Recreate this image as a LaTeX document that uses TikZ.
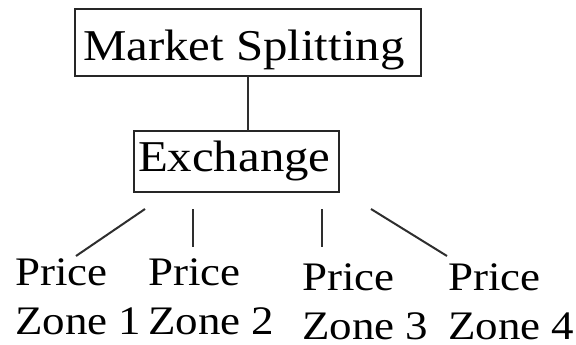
\documentclass[tikz,border=0pt]{standalone}
\usepackage{fontspec}
\setmainfont{Liberation Serif}[FakeStretch=1.11]
\begin{document}
\begin{tikzpicture}[x=1pt,y=-1pt,
  box/.style={draw=black!85, line width=2pt, inner sep=0pt, outer sep=0pt,
              anchor=north west, font=\fontsize{44pt}{52pt}\selectfont},
  conn/.style={draw=black!82, line width=2pt},
  zone/.style={inner sep=0pt, anchor=base west, align=left,
               font=\fontsize{40.5pt}{49pt}\selectfont}]
\useasboundingbox (0,0) rectangle (576,345);

% top of the hierarchy
\node[box, text height=52pt, text depth=15pt] (ms) at (75,9)
  {\makebox[346pt][l]{\hspace{8pt}Market Splitting}};
\node[box, text height=40pt, text depth=21pt] (ex) at (134,131)
  {\makebox[205pt][l]{\hspace{4pt}Exchange}};
\draw[conn] (ms.south) -- (ms.south |- ex.north);

% price zones (anchored on the baseline of their last line)
\node[zone] (z1) at (15,334) {Price\\Zone 1};
\node[zone] (z2) at (148,334) {Price\\Zone 2};
\node[zone] (z3) at (302,339) {Price\\Zone 3};
\node[zone] (z4) at (448,339) {Price\\Zone 4};

% free-standing branch lines below the exchange
\coordinate (e1) at (145,209); \coordinate (t1) at (76,256);
\coordinate (e2) at (193,209); \coordinate (t2) at (193,247);
\coordinate (e3) at (322,209); \coordinate (t3) at (322,247);
\coordinate (e4) at (371,209); \coordinate (t4) at (447,256);
\draw[conn] (e1) -- (t1);
\draw[conn] (e2) -- (t2);
\draw[conn] (e3) -- (t3);
\draw[conn] (e4) -- (t4);
\end{tikzpicture}
\end{document}
